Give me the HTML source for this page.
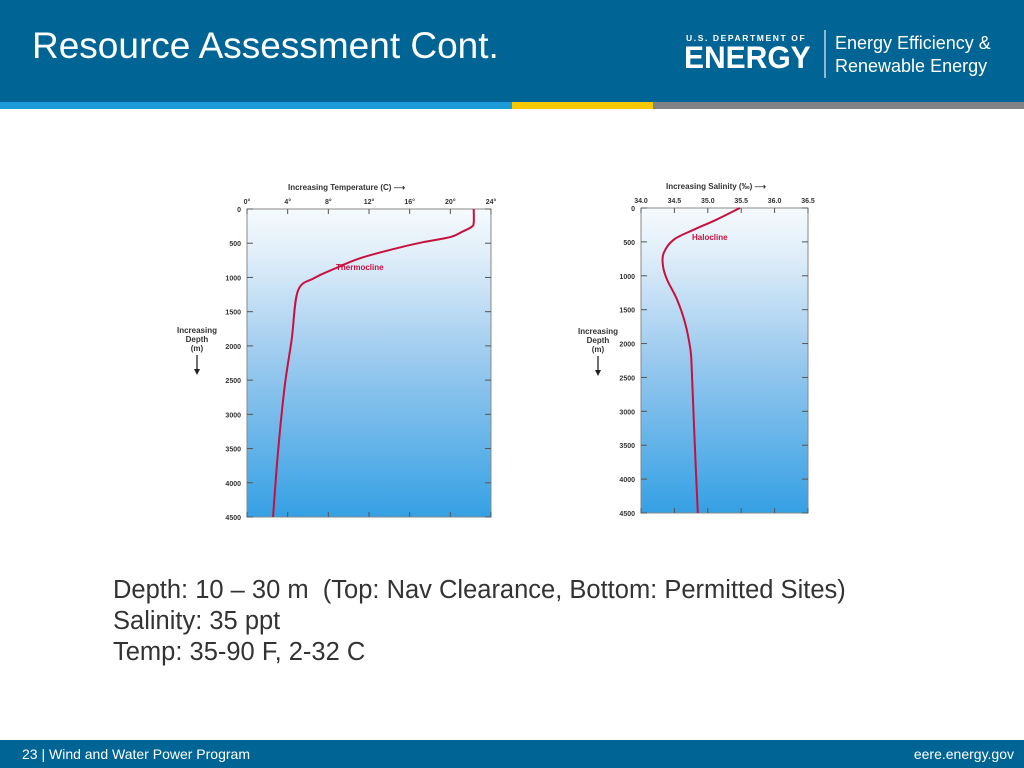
<!DOCTYPE html>
<html><head><meta charset="utf-8">
<style>
body{margin:0;width:1024px;height:768px;overflow:hidden;background:#fff;font-family:"Liberation Sans",sans-serif;position:relative}
.hdr{position:absolute;left:0;top:0;width:1024px;height:102px;background:#006594}
.title{position:absolute;left:32px;top:25px;color:#fff;font-size:37px}
.stripe{position:absolute;top:102px;height:7px}
.ftr{position:absolute;left:0;top:740px;width:1024px;height:28px;background:#006594;color:#fff;font-size:14px}
.body{position:absolute;left:113px;top:575px;font-size:25.5px;color:#333;line-height:31px}
</style></head><body>
<div class="hdr">
<div class="title">Resource Assessment Cont.</div>
<div style="position:absolute;left:686px;top:33px;color:#fff;font-size:8.5px;letter-spacing:1.6px;font-weight:bold">U.S. DEPARTMENT OF</div>
<div style="position:absolute;left:684px;top:42px;color:#fff;font-size:30px;font-weight:bold;line-height:32px;transform:scaleY(1.05);transform-origin:top left">ENERGY</div>
<div style="position:absolute;left:824px;top:30px;width:2px;height:48px;background:#8fb8d0"></div>
<div style="position:absolute;left:835px;top:32px;color:#fff;font-size:18px;line-height:23px">Energy Efficiency &amp;<br>Renewable Energy</div>
</div>
<div class="stripe" style="left:0;width:512px;background:#1d9ad8"></div>
<div class="stripe" style="left:512px;width:141px;background:#f5c800"></div>
<div class="stripe" style="left:653px;width:371px;background:#808285"></div>

<svg id="c" width="1024" height="768" style="position:absolute;left:0;top:0">
<defs><linearGradient id="g" x1="0" y1="0" x2="0" y2="1"><stop offset="0" stop-color="#f6fafd"/><stop offset="0.15" stop-color="#e0eef9"/><stop offset="0.5" stop-color="#99c9ee"/><stop offset="1" stop-color="#35a0e4"/></linearGradient></defs>
</svg>

<div class="body">Depth: 10 – 30 m&nbsp; (Top: Nav Clearance, Bottom: Permitted Sites)<br>Salinity: 35 ppt<br>Temp: 35-90 F, 2-32 C</div>
<div class="ftr">
<span style="position:absolute;left:22px;top:6px">23 | Wind and Water Power Program</span>
<span style="position:absolute;right:10px;top:6px">eere.energy.gov</span>
</div>
<script>
const depthTicks=[0,500,1000,1500,2000,2500,3000,3500,4000,4500];
const tempTicks=[0,4,8,12,16,20,24];
const tempLabels=["0°","4°","8°","12°","16°","20°","24°"];
const tempDepth=[0,200,260,330,410,485,585,720,860,1010,1200,1900,2600,3550,4500];
const tempVals=[22.3,22.3,22.1,21.2,20,17.3,14.4,11.1,8.8,6.6,5.0,4.4,3.7,3.05,2.56];
const salTicks=[34.0,34.5,35.0,35.5,36.0,36.5];
const salLabels=["34.0","34.5","35.0","35.5","36.0","36.5"];
const salDepth=[0,172,320,467,664,860,1057,1352,1697,2090,2385,3370,4500];
const salVals=[35.48,35.13,34.79,34.49,34.34,34.33,34.39,34.54,34.66,34.74,34.76,34.8,34.85];
const svg=document.getElementById('c');const NS='http://www.w3.org/2000/svg';
function mk(t,a,p){const e=document.createElementNS(NS,t);for(const k in a)e.setAttribute(k,a[k]);(p||svg).appendChild(e);return e;}
function chart(o){
 const x=v=>o.L+(v-o.x0)/(o.x1-o.x0)*(o.R-o.L);
 const y=d=>o.T+d/4500*(o.B-o.T);
 const bg=mk('rect',{x:o.L,y:o.T,width:o.R-o.L,height:o.B-o.T,fill:'url(#g)',stroke:'#888','stroke-width':1});
 
 
 depthTicks.forEach(d=>{
  mk('line',{x1:o.L,x2:o.L+6,y1:y(d),y2:y(d),stroke:'#555'});
  mk('line',{x1:o.R-6,x2:o.R,y1:y(d),y2:y(d),stroke:'#555'});
  const t=mk('text',{x:o.L-6,y:y(d)+3,'text-anchor':'end','font-size':7,'font-weight':'bold',fill:'#333'});t.textContent=d;
  
  
 });
 o.ticks.forEach((v,i)=>{
  mk('line',{x1:x(v),x2:x(v),y1:o.T,y2:o.T+5,stroke:'#555'});
  mk('line',{x1:x(v),x2:x(v),y1:o.B-5,y2:o.B,stroke:'#555'});
  const t=mk('text',{x:x(v),y:o.T-5,'text-anchor':'middle','font-size':7,'font-weight':'bold',fill:'#333'});t.textContent=o.labels[i];
  
  
 });
 const tt=mk('text',{x:o.tx,y:o.T-19,'font-size':8,'font-weight':'bold',fill:'#333'});tt.textContent=o.title+' \u27F6';
 
 
 ['Increasing','Depth','(m)'].forEach((s,i)=>{const t=mk('text',{x:o.dx,y:o.dy+i*9,'text-anchor':'middle','font-size':8,'font-weight':'bold',fill:'#333'});t.textContent=s;
  
  });
 mk('line',{x1:o.dx,x2:o.dx,y1:o.dy+22,y2:o.dy+40,stroke:'#222','stroke-width':1.3});
 mk('path',{d:`M${o.dx-3} ${o.dy+36}L${o.dx} ${o.dy+42}L${o.dx+3} ${o.dy+36}Z`,fill:'#222'});
 let pts=o.depth.map((d,i)=>[x(o.vals[i]),y(d)]);
 let dd='M'+pts[0].join(' ');
 for(let i=1;i<pts.length;i++){const p0=pts[i-2]||pts[i-1],p1=pts[i-1],p2=pts[i],p3=pts[i+1]||p2;
  dd+=`C${p1[0]+(p2[0]-p0[0])/6} ${p1[1]+(p2[1]-p0[1])/6} ${p2[0]-(p3[0]-p1[0])/6} ${p2[1]-(p3[1]-p1[1])/6} ${p2[0]} ${p2[1]}`;}
 const c=mk('path',{d:dd,fill:'none',stroke:'#c8103e','stroke-width':2});
 
 
 const l=mk('text',{x:o.lx,y:o.ly,'font-size':8,'font-weight':'bold',fill:'#c8103e'});l.textContent=o.lab;
 
 
}
chart({name:'temperature',L:247,R:491,T:209,B:517,x0:0,x1:24,ticks:tempTicks,labels:tempLabels,depth:tempDepth,vals:tempVals,title:'Increasing Temperature (C)',tx:288,dx:197,dy:333,lx:336,ly:270,lab:'Thermocline'});
chart({name:'salinity',L:641,R:808,T:208,B:513,x0:34,x1:36.5,ticks:salTicks,labels:salLabels,depth:salDepth,vals:salVals,title:'Increasing Salinity (\u2030)',tx:666,dx:598,dy:334,lx:692,ly:240,lab:'Halocline'});
</script>
</body></html>
